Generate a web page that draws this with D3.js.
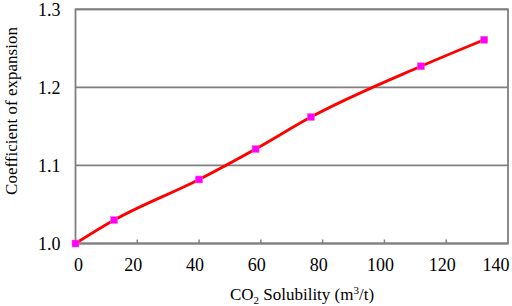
<!DOCTYPE html>
<html lang="en">
<head>
<meta charset="UTF-8">
<title>Coefficient of expansion</title>
<script src="https://cdnjs.cloudflare.com/ajax/libs/d3/7.8.5/d3.min.js"></script>
<style>
  body { margin: 0; background: #fff; }
</style>
</head>
<body>
<div id="chart"></div>
<script>
// Data
const solubility = [0, 12.5, 40, 58.3, 76.2, 111.8, 132.3];
const expansion = [1.0, 1.030, 1.082, 1.121, 1.162, 1.227, 1.261];
const xTicks = [0, 20, 40, 60, 80, 100, 120, 140];
const yTicks = [1.0, 1.1, 1.2, 1.3];

const font = "'Liberation Serif', 'DejaVu Serif', serif";
const width = 512, height = 306;
const margin = { top: 9.3, right: 4, bottom: 62.5, left: 75.5 };
const innerW = width - margin.left - margin.right;
const innerH = height - margin.top - margin.bottom;

const svg = d3.select("#chart").append("svg")
  .attr("width", width)
  .attr("height", height)
  .attr("font-family", font);

const g = svg.append("g")
  .attr("transform", `translate(${margin.left},${margin.top})`);

const x = d3.scaleLinear().domain([0, 140]).range([0, innerW]);
const y = d3.scaleLinear().domain([1.0, 1.3]).range([innerH, 0]);

// horizontal gridlines
g.selectAll("line.grid")
  .data(yTicks)
  .enter().append("line")
  .attr("class", "grid")
  .attr("x1", 0).attr("x2", innerW)
  .attr("y1", d => y(d)).attr("y2", d => y(d))
  .attr("stroke", "#7f7f7f")
  .attr("stroke-width", 1.8);

// frame
g.append("rect")
  .attr("width", innerW)
  .attr("height", innerH)
  .attr("fill", "none")
  .attr("stroke", "#7f7f7f")
  .attr("stroke-width", 1.8);

// x ticks (pointing inward)
g.selectAll("line.xtick")
  .data(xTicks.slice(1, -1))
  .enter().append("line")
  .attr("class", "xtick")
  .attr("x1", d => x(d)).attr("x2", d => x(d))
  .attr("y1", innerH).attr("y2", innerH - 4)
  .attr("stroke", "#7f7f7f")
  .attr("stroke-width", 1.5);

// x tick labels
g.selectAll("text.xlab")
  .data(xTicks)
  .enter().append("text")
  .attr("class", "xlab")
  .attr("x", d => d === 140 ? x(d) - 12 : x(d) + (d === 0 ? 3 : -4))
  .attr("y", innerH + 28)
  .attr("text-anchor", "middle")
  .attr("font-family", font)
  .style("font-size", "18px")
  .text(d => d);

// y tick labels
g.selectAll("text.ylab")
  .data(yTicks)
  .enter().append("text")
  .attr("class", "ylab")
  .attr("x", -15)
  .attr("y", d => y(d))
  .attr("dy", "0.35em")
  .attr("text-anchor", "end")
  .attr("font-family", font)
  .style("font-size", "18px")
  .text(d => d.toFixed(1));

// line
const pts = solubility.map((s, i) => [s, expansion[i]]);
const line = d3.line()
  .x(d => x(d[0]))
  .y(d => y(d[1]))
  .curve(d3.curveMonotoneX);

g.append("path")
  .datum(pts)
  .attr("d", line)
  .attr("fill", "none")
  .attr("stroke", "#ff0000")
  .attr("stroke-width", 2.8);

// markers
g.selectAll("rect.pt")
  .data(pts)
  .enter().append("rect")
  .attr("class", "pt")
  .attr("x", d => x(d[0]) - 3.5)
  .attr("y", d => y(d[1]) - 3.5)
  .attr("width", 7)
  .attr("height", 7)
  .attr("fill", "#ff00ff")
  .attr("stroke", "#ff66cc")
  .attr("stroke-width", 0.5);

// axis titles
svg.append("text")
  .attr("x", 302)
  .attr("y", 300)
  .attr("text-anchor", "middle")
  .attr("font-family", font)
  .style("font-size", "17px")
  .html('CO<tspan dy="4" font-size="11px">2</tspan><tspan dy="-4"> Solubility (m</tspan><tspan dy="-6" font-size="11px">3</tspan><tspan dy="6">/t)</tspan>');

svg.append("text")
  .attr("transform", "translate(17,111) rotate(-90)")
  .attr("text-anchor", "middle")
  .attr("font-family", font)
  .style("font-size", "17px")
  .text("Coefficient of expansion");
</script>
</body>
</html>
